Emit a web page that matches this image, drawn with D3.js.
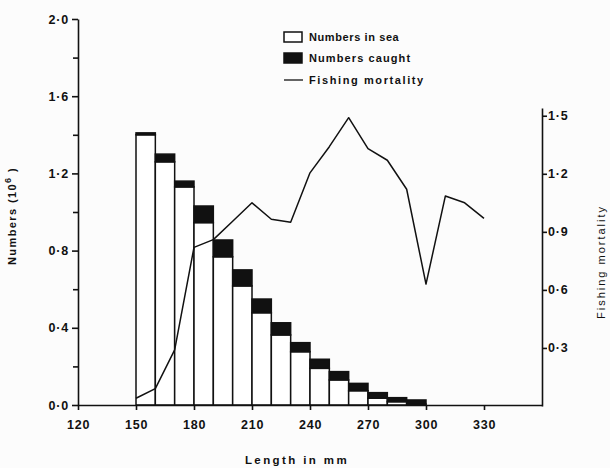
<!DOCTYPE html>
<html>
<head>
<meta charset="utf-8">
<script src="https://cdn.jsdelivr.net/npm/d3@7"></script>
<style>
  body { margin: 0; background: #fcfcfc; }
  svg { display: block; }
  text { font-family: "Liberation Sans", Arial, sans-serif; fill: #111; }
  .tick text { font-size: 12.5px; font-weight: bold; letter-spacing: 0.8px; }
  .tick line, .domain { stroke: #111; stroke-width: 1.6; }
</style>
</head>
<body>
<svg id="chart"></svg>
<script>
// length classes (mm), lower edge of each 10 mm bin
const binStart = [150, 160, 170, 180, 190, 200, 210, 220, 230, 240, 250, 260, 270, 280, 290];
// numbers in sea (10^6)
const numbersInSea = [1.40, 1.26, 1.13, 0.945, 0.768, 0.617, 0.478, 0.363, 0.276, 0.190, 0.130, 0.074, 0.035, 0.017, 0.005];
// numbers caught (10^6), drawn on top of the sea bar
const numbersCaught = [0.01, 0.04, 0.03, 0.086, 0.087, 0.083, 0.071, 0.063, 0.047, 0.047, 0.043, 0.038, 0.029, 0.021, 0.021];
// fishing mortality at bin edges
const fLength = [150, 160, 170, 180, 190, 200, 210, 220, 230, 240, 250, 260, 270, 280, 290, 300, 310, 320, 330];
const fishingMortality = [0.04, 0.09, 0.29, 0.82, 0.86, 0.955, 1.05, 0.965, 0.95, 1.205, 1.34, 1.49, 1.33, 1.27, 1.12, 0.63, 1.085, 1.05, 0.97];

const xTicks = [120, 150, 180, 210, 240, 270, 300, 330];
const yTicks = [0, 0.4, 0.8, 1.2, 1.6, 2.0];
const yMinorTicks = [0.2, 0.6, 1.0, 1.4, 1.8];
const fTicks = [0.3, 0.6, 0.9, 1.2, 1.5];

const W = 610, H = 468;
const ink = '#111';
const svg = d3.select('#chart').attr('width', W).attr('height', H);

const x = d3.scaleLinear().domain([120, 360]).range([78, 542]);
const y = d3.scaleLinear().domain([0, 2]).range([405, 19]);
const yF = d3.scaleLinear().domain([0, 1.54]).range([406, 108]);

const dot = v => d3.format('.1f')(v).replace('.', '·');

// bars
const bars = svg.append('g');
binStart.forEach((b, i) => {
  const sea = numbersInSea[i], caught = numbersCaught[i];
  bars.append('rect')
    .attr('x', x(b)).attr('width', x(b + 10) - x(b))
    .attr('y', y(sea)).attr('height', y(0) - y(sea))
    .attr('fill', '#fff').attr('stroke', ink).attr('stroke-width', 1.5);
  bars.append('rect')
    .attr('x', x(b)).attr('width', x(b + 10) - x(b))
    .attr('y', y(sea + caught)).attr('height', y(sea) - y(sea + caught))
    .attr('fill', ink).attr('stroke', ink).attr('stroke-width', 1.5);
});

// fishing mortality line
const line = d3.line().x((d, i) => x(fLength[i])).y(d => yF(d));
svg.append('path')
  .datum(fishingMortality)
  .attr('fill', 'none')
  .attr('stroke', ink)
  .attr('stroke-width', 1.5)
  .attr('stroke-linejoin', 'round')
  .attr('d', line);

// x axis
svg.append('g')
  .attr('transform', `translate(0,${y(0)})`)
  .call(d3.axisBottom(x).tickValues(xTicks).tickSize(5).tickSizeOuter(0).tickPadding(10).tickFormat(d3.format('d')));

// left axis
svg.append('g')
  .attr('transform', `translate(${x(120)},0)`)
  .call(d3.axisLeft(y).tickValues(yTicks).tickSize(6).tickSizeOuter(0).tickPadding(3).tickFormat(dot));
svg.append('g')
  .attr('transform', `translate(${x(120)},0)`)
  .call(d3.axisLeft(y).tickValues(yMinorTicks).tickSize(5).tickFormat(''))
  .call(g => g.select('.domain').remove());

// right axis
svg.append('g')
  .attr('transform', `translate(${x(360)},0)`)
  .call(d3.axisRight(yF).tickValues(fTicks).tickSize(5).tickSizeOuter(0).tickPadding(1).tickFormat(dot));

// axis titles
svg.append('text')
  .attr('transform', 'translate(16,216) rotate(-90)')
  .attr('text-anchor', 'middle')
  .attr('font-size', 11).attr('font-weight', 'bold').attr('letter-spacing', 1.4)
  .html('Numbers (10<tspan dy="-5" font-size="9">6</tspan><tspan dy="5"> )</tspan>');

svg.append('text')
  .attr('transform', 'translate(605,262) rotate(-90)')
  .attr('text-anchor', 'middle')
  .attr('font-size', 11).attr('letter-spacing', 2)
  .text('Fishing mortality');

svg.append('text')
  .attr('x', 297).attr('y', 464)
  .attr('text-anchor', 'middle')
  .attr('font-size', 11.5).attr('font-weight', 'bold').attr('letter-spacing', 2.4)
  .text('Length in mm');

// legend
const lg = svg.append('g');
lg.append('rect').attr('x', 284).attr('y', 32).attr('width', 18).attr('height', 10)
  .attr('fill', '#fff').attr('stroke', ink).attr('stroke-width', 1.5);
lg.append('rect').attr('x', 284).attr('y', 53).attr('width', 18).attr('height', 10)
  .attr('fill', ink).attr('stroke', ink).attr('stroke-width', 1.5);
lg.append('line').attr('x1', 284).attr('x2', 303).attr('y1', 80).attr('y2', 80)
  .attr('stroke', ink).attr('stroke-width', 1.3);
const legendText = ['Numbers in sea', 'Numbers caught', 'Fishing mortality'];
const legendSpacing = [0.6, 1.1, 1.6];
[41, 62, 84].forEach((yy, i) => {
  lg.append('text').attr('x', 309).attr('y', yy)
    .attr('font-size', 11).attr('font-weight', 'bold')
    .attr('letter-spacing', legendSpacing[i])
    .text(legendText[i]);
});
</script>
</body>
</html>
